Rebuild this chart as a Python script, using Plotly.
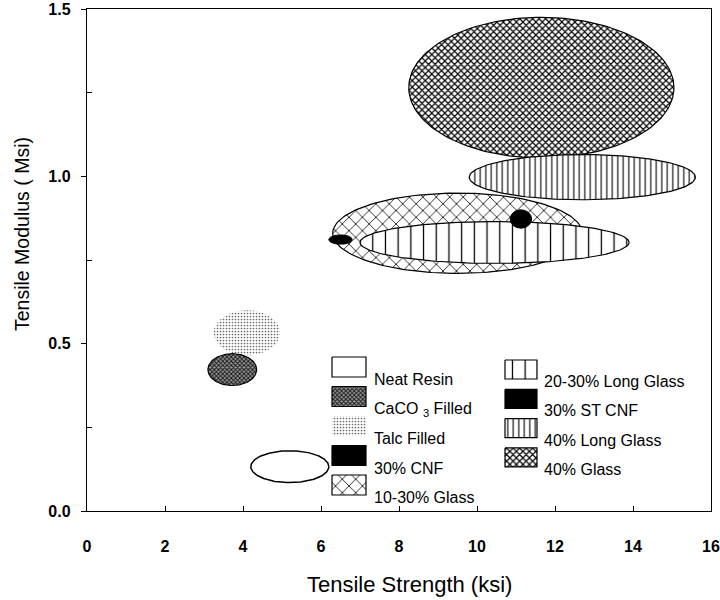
import numpy as np
import plotly.graph_objects as go

# Property ranges of each material family (strength in ksi, modulus in Msi)
materials = ["40% Glass", "40% Long Glass", "10-30% Glass", "20-30% Long Glass",
             "30% CNF", "30% ST CNF", "Talc Filled", "CaCO <sub>3</sub> Filled", "Neat Resin"]
strength_lo = [8.25, 9.8, 6.3, 7.0, 6.2, 10.85, 3.25, 3.1, 4.2]
strength_hi = [15.05, 15.6, 12.7, 13.9, 6.8, 11.4, 4.95, 4.35, 6.2]
modulus_lo = [1.055, 0.93, 0.71, 0.74, 0.797, 0.845, 0.465, 0.375, 0.085]
modulus_hi = [1.475, 1.065, 0.95, 0.865, 0.825, 0.90, 0.60, 0.47, 0.18]

x_ticks = [0, 2, 4, 6, 8, 10, 12, 14, 16]
y_ticks = [0.0, 0.5, 1.0, 1.5]
y_tick_text = ["0.0", "0.5", "1.0", "1.5"]

# legend layout: two columns, listed top to bottom
legend_col1 = ["Neat Resin", "CaCO <sub>3</sub> Filled", "Talc Filled", "30% CNF", "10-30% Glass"]
legend_col2 = ["20-30% Long Glass", "30% ST CNF", "40% Long Glass", "40% Glass"]

FONT = "Arial, Liberation Sans, sans-serif"

# fill style for each material
styles = {
    "40% Glass": dict(pattern=dict(shape="x", size=4.6, solidity=0.45, fgcolor="black", bgcolor="white"), lw=1.2),
    "40% Long Glass": dict(pattern=dict(shape="|", size=5.5, solidity=0.2, fgcolor="black", bgcolor="white"), lw=1.2),
    "10-30% Glass": dict(pattern=dict(shape="x", size=9.5, solidity=0.16, fgcolor="black", bgcolor="white"), lw=1.2),
    "20-30% Long Glass": dict(pattern=dict(shape="|", size=12.7, solidity=0.1, fgcolor="black", bgcolor="white"), lw=1.2),
    "30% CNF": dict(fill="black", lw=1),
    "30% ST CNF": dict(fill="black", lw=1),
    "Talc Filled": dict(pattern=dict(shape=".", size=3, solidity=0.25, fgcolor="#666", bgcolor="white"), lw=0),
    "CaCO <sub>3</sub> Filled": dict(pattern=dict(shape="x", size=3, solidity=0.5, fgcolor="#111", bgcolor="#999"), lw=1.2),
    "Neat Resin": dict(fill="white", lw=1.5),
}


def fill_kwargs(name):
    st = styles[name]
    kw = dict(fill="toself", mode="lines",
              line=dict(color="black", width=st["lw"]) if st["lw"] > 0 else dict(color="rgba(0,0,0,0)", width=0))
    if "pattern" in st:
        kw["fillcolor"] = "white"
        kw["fillpattern"] = dict(fillmode="replace", **st["pattern"])
    else:
        kw["fillcolor"] = st["fill"]
    return kw


fig = go.Figure()

t = np.linspace(0, 2 * np.pi, 181)
for name, slo, shi, mlo, mhi in zip(materials, strength_lo, strength_hi, modulus_lo, modulus_hi):
    cx, cy = (slo + shi) / 2, (mlo + mhi) / 2
    ax, ay = (shi - slo) / 2, (mhi - mlo) / 2
    fig.add_trace(go.Scatter(x=cx + ax * np.cos(t), y=cy + ay * np.sin(t),
                             name=name, showlegend=False, hoverinfo="name",
                             **fill_kwargs(name)))

# legend swatches drawn on a pixel-scaled overlay axis pair
PLOT_L, PLOT_R, PLOT_T, PLOT_B = 87, 711, 9, 511
legend_cols = [
    dict(items=legend_col1, x0=332, x1=366, top=357, step=29.5, h=20, tx=372),
    dict(items=legend_col2, x0=505, x1=537, top=360, step=29.3, h=19, tx=542),
]
annotations = []
for col in legend_cols:
    for i, name in enumerate(col["items"]):
        y0 = col["top"] + i * col["step"]
        y1 = y0 + col["h"]
        kw = fill_kwargs(name)
        if styles[name]["lw"] == 0:
            kw["line"] = dict(color="rgba(0,0,0,0)", width=0)
        else:
            kw["line"] = dict(color="black", width=1.2)
        fig.add_trace(go.Scatter(x=[col["x0"], col["x1"], col["x1"], col["x0"], col["x0"]],
                                 y=[y0, y0, y1, y1, y0], xaxis="x2", yaxis="y2",
                                 showlegend=False, hoverinfo="skip", **kw))
        annotations.append(dict(x=col["tx"], y=y1 + 2.5, xref="x2", yref="y2", text=name,
                                showarrow=False, xanchor="left", yanchor="middle",
                                font=dict(family=FONT, size=16, color="black")))


def px_to_paper(px, py):
    return (px - PLOT_L) / (PLOT_R - PLOT_L), (PLOT_B - py) / (PLOT_B - PLOT_T)


# axis titles
tx, ty = px_to_paper(409, 584)
annotations.append(dict(x=tx, y=ty, xref="paper", yref="paper",
                        text="Tensile Strength (ksi)", showarrow=False,
                        xanchor="center", yanchor="middle",
                        font=dict(family=FONT, size=22, color="black")))
tx, ty = px_to_paper(22, 234)
annotations.append(dict(x=tx, y=ty, xref="paper", yref="paper", textangle=-90,
                        text="Tensile Modulus ( Msi)", showarrow=False,
                        xanchor="center", yanchor="middle",
                        font=dict(family=FONT, size=19.5, color="black")))

fig.update_layout(
    width=720, height=600,
    margin=dict(l=PLOT_L, r=720 - PLOT_R, t=PLOT_T, b=600 - PLOT_B),
    paper_bgcolor="white", plot_bgcolor="white",
    showlegend=False,
    annotations=annotations,
    xaxis=dict(range=[0, 16], tickvals=x_ticks, ticktext=[str(v) for v in x_ticks],
               ticks="inside", ticklen=5, tickwidth=1.2, tickcolor="black",
               showline=True, linecolor="black", linewidth=1.4, mirror=True,
               showgrid=False, zeroline=False, ticklabelstandoff=21,
               ticklabeloverflow="allow", automargin=False,
               tickfont=dict(family=FONT, size=16, color="black", weight="bold")),
    yaxis=dict(range=[0, 1.5], tickvals=y_ticks, ticktext=y_tick_text,
               ticks="outside", ticklen=5, tickwidth=1.2, tickcolor="black",
               minor=dict(tickvals=[0.25, 0.75, 1.25], ticks="inside", ticklen=5,
                          tickwidth=1.2, tickcolor="black"),
               showline=True, linecolor="black", linewidth=1.4, mirror=True,
               showgrid=False, zeroline=False, ticklabelstandoff=7,
               ticklabeloverflow="allow", automargin=False,
               tickfont=dict(family=FONT, size=16, color="black", weight="bold")),
    xaxis2=dict(overlaying="x", range=[PLOT_L, PLOT_R], visible=False, fixedrange=True,
                automargin=False),
    yaxis2=dict(overlaying="y", range=[PLOT_B, PLOT_T], visible=False, fixedrange=True,
                automargin=False),
)

fig.write_html("out.html")
